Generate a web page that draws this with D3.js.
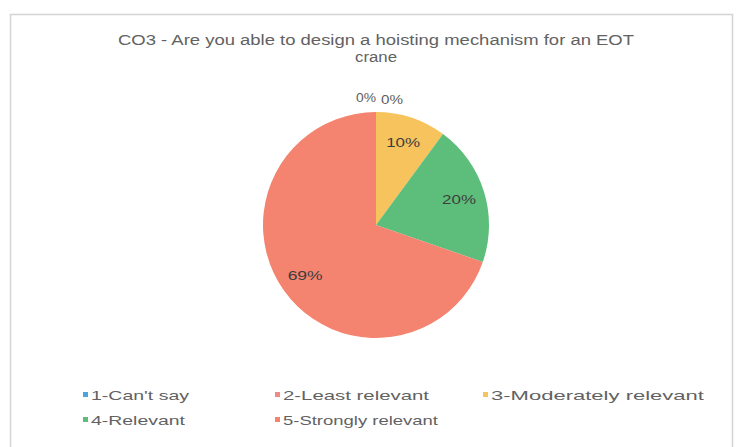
<!DOCTYPE html>
<html><head><meta charset="utf-8">
<script src="https://cdn.jsdelivr.net/npm/d3@7"></script>
<style>body{margin:0;background:#fff;}svg{display:block;font-family:"Liberation Sans",Arial,sans-serif;}</style>
</head><body>
<svg id="c" width="736" height="447"></svg>
<script>
const categories = ["1-Can't say","2-Least relevant","3-Moderately relevant","4-Relevant","5-Strongly relevant"];
const values = [0, 0, 10, 20, 69];
const labels = ["0%","0%","10%","20%","69%"];
const colors = ["#4ba6dc","#ef8a8a","#f7c35c","#5dbd7b","#f4836f"];
const titleLines = ["CO3 - Are you able to design a hoisting mechanism for an EOT","crane"];

const svg = d3.select("#c");
svg.append("rect").attr("x",10.5).attr("y",14.5).attr("width",722).attr("height",440)
  .attr("fill","#fff").attr("stroke","#d4d4d4").attr("stroke-width",1.5);

const titleW = [516, 42];
svg.append("g").selectAll("text").data(titleLines).join("text")
  .attr("x",376).attr("y",(d,i)=>45+i*17).attr("text-anchor","middle")
  .attr("font-size",14).attr("fill","#626262")
  .attr("textLength",(d,i)=>titleW[i]).attr("lengthAdjust","spacingAndGlyphs").text(d=>d);

const cx=376, cy=225, r=113;
const pie = d3.pie().sort(null).value(d=>d.v);
const data = pie(categories.map((c,i)=>({c, v:values[i], i})));
const arc = d3.arc().innerRadius(0).outerRadius(r);
const g = svg.append("g").attr("transform",`translate(${cx},${cy})`);
g.selectAll("path").data(data).join("path").attr("d",arc).attr("fill",d=>colors[d.data.i]);

const lblArc = d3.arc().innerRadius(r*0.77).outerRadius(r*0.77);
const zeroPos = [[-10,-123],[16,-121]];
const lblW = [20, 22, 34, 34, 35];
g.selectAll("text").data(data).join("text")
  .attr("x",(d,i)=> d.data.v>0 ? lblArc.centroid(d)[0] : zeroPos[i][0])
  .attr("y",(d,i)=> d.data.v>0 ? lblArc.centroid(d)[1] + 5 : zeroPos[i][1])
  .attr("text-anchor","middle").attr("font-size",13)
  .attr("textLength",(d,i)=>lblW[i]).attr("lengthAdjust","spacingAndGlyphs")
  .attr("fill",d=>d.data.v>0?"#3d3d3d":"#5e5e5e").text((d,i)=>labels[i]);

const legPos = [[83,400],[275,400],[483,400],[83,425],[275,425]];
const legW = [98, 146, 213, 94, 155];
const lg = svg.append("g").selectAll("g").data(categories).join("g")
  .attr("transform",(d,i)=>`translate(${legPos[i][0]},${legPos[i][1]})`);
lg.append("rect").attr("x",0).attr("y",-8).attr("width",5).attr("height",5).attr("fill",(d,i)=>colors[i]);
lg.append("text").attr("x",8).attr("y",0).attr("font-size",13.5).attr("fill","#626262")
  .attr("textLength",(d,i)=>legW[i]).attr("lengthAdjust","spacingAndGlyphs").text(d=>d);
</script>
</body></html>
